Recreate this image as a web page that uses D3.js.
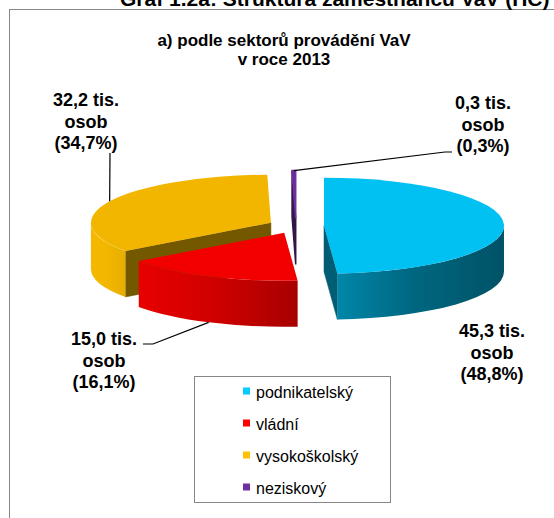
<!DOCTYPE html>
<html>
<head>
<meta charset="utf-8">
<script src="https://cdn.jsdelivr.net/npm/d3@7"></script>
<style>
  body { margin: 0; background: #fff; }
  svg { display: block; font-family: "Liberation Sans", Arial, sans-serif; }
</style>
</head>
<body>
<svg id="chart" width="554" height="518"></svg>
<script>
// data
var sectors = ["podnikatelský", "vládní", "vysokoškolský", "neziskový"];
var persons = [45.3, 15.0, 32.2, 0.3];   // tis. osob
var shares = [48.8, 16.1, 34.7, 0.3];    // %
var colors = ["#00CCFF", "#FF0000", "#FFC000", "#7030A0"];

// label layout (centre x, first baseline y) and leader end points
var labelPos = [[492, 337], [104, 345], [86, 106], [483, 109]];
var leaderEnd = [null, [143, 344], [110, 153], [452, 152]];
var elbow = [0, 10, 0, -7];

var fmt = function(v) { return d3.format(".1f")(v).replace(".", ","); };

var svg = d3.select("#chart");

// outer chart frame
svg.append("rect")
    .attr("x", 9.5).attr("y", 9.5)
    .attr("width", 600).attr("height", 600)
    .attr("fill", "#fff")
    .attr("stroke", "#868686");

// page header, cut off at the top
svg.append("text")
    .attr("x", 120).attr("y", 6)
    .attr("font-size", 21).attr("font-weight", "bold")
    .text("Graf 1.2a: Struktura zaměstnanců VaV (HC)");

// title
var title = svg.append("text")
    .attr("text-anchor", "middle")
    .attr("font-size", 17).attr("font-weight", "bold");
title.append("tspan").attr("x", 284).attr("y", 46).text("a) podle sektorů provádění VaV");
title.append("tspan").attr("x", 284).attr("y", 65).text("v roce 2013");

// 3d pie geometry
var cx = 296, cy = 226, rx = 180, ry = 48, depth = 46, explode = 28;
var k = ry / rx;

var arcs = d3.pie().sort(null).value(function(d) { return d; })(persons);

arcs.forEach(function(d, i) {
    d.index = i;
    d.mid = (d.startAngle + d.endAngle) / 2;
    d.ox = cx + explode * Math.sin(d.mid);
    d.oy = cy - explode * k * Math.cos(d.mid);
});

function pt(d, a, dy) {
    return [d.ox + rx * Math.sin(a), d.oy - ry * Math.cos(a) + (dy || 0)];
}

// light falls from the left
function shade(c, a) {
    var f = 0.68 - 0.28 * Math.sin(a);
    var col = d3.rgb(c);
    return d3.rgb(col.r * f, col.g * f, col.b * f) + "";
}

var defs = svg.append("defs");

// draw back slices first
var order = arcs.slice().sort(function(a, b) { return Math.cos(b.mid) - Math.cos(a.mid); });

var pieG = svg.append("g");

order.forEach(function(d) {
    var c = colors[d.index];
    var g = pieG.append("g");
    var a = d.startAngle, b = d.endAngle;

    // cut faces
    var faces = [];
    if (Math.sin(a) < -1e-6) faces.push(a);
    if (Math.sin(b) > 1e-6) faces.push(b);
    faces.forEach(function(t) {
        var p = pt(d, t);
        g.append("path")
            .attr("d", "M" + d.ox + "," + d.oy + "L" + p[0] + "," + p[1] +
                "L" + p[0] + "," + (p[1] + depth) + "L" + d.ox + "," + (d.oy + depth) + "Z")
            .attr("fill", d3.rgb(c).darker(2.2))
            .attr("stroke", d3.rgb(c).darker(2.2))
            .attr("stroke-width", d.index === 3 ? 1.5 : 0.5);
    });

    // front wall
    var t1 = Math.max(a, Math.PI / 2), t2 = Math.min(b, 3 * Math.PI / 2);
    if (t1 < t2) {
        var gid = "wall" + d.index;
        var grad = defs.append("linearGradient").attr("id", gid)
            .attr("x1", 0).attr("x2", 1).attr("y1", 0).attr("y2", 0);
        grad.append("stop").attr("offset", 0).attr("stop-color", shade(c, t2));
        grad.append("stop").attr("offset", 0.45).attr("stop-color", shade(c, (t1 + t2) / 2 + (t2 - t1) * 0.1));
        grad.append("stop").attr("offset", 1).attr("stop-color", shade(c, t1));
        var p1 = pt(d, t1), p2 = pt(d, t2);
        g.append("path")
            .attr("d", "M" + p1[0] + "," + p1[1] +
                "A" + rx + "," + ry + " 0 0 1 " + p2[0] + "," + p2[1] +
                "L" + p2[0] + "," + (p2[1] + depth) +
                "A" + rx + "," + ry + " 0 0 0 " + p1[0] + "," + (p1[1] + depth) + "Z")
            .attr("fill", "url(#" + gid + ")");
    }

    // top face
    var s = pt(d, a), e = pt(d, b);
    g.append("path")
        .attr("d", "M" + d.ox + "," + d.oy + "L" + s[0] + "," + s[1] +
            "A" + rx + "," + ry + " 0 " + (b - a > Math.PI ? 1 : 0) + " 1 " + e[0] + "," + e[1] + "Z")
        .attr("fill", d3.rgb(c).darker(0.15))
        .attr("stroke", d.index === 3 ? d3.rgb(c) : "none")
        .attr("stroke-width", 1.5);
});

// leader lines
arcs.forEach(function(d, i) {
    if (!leaderEnd[i]) return;
    var front = Math.cos(d.mid) < 0;
    var p = pt(d, d.mid, front ? depth : 0);
    var end = leaderEnd[i];
    var pts = [p, [end[0] + elbow[i], end[1]], end];
    svg.append("path")
        .attr("d", d3.line()(pts))
        .attr("fill", "none")
        .attr("stroke", "#000")
        .attr("stroke-width", 1.2);
});

// data labels
arcs.forEach(function(d, i) {
    var t = svg.append("text")
        .attr("text-anchor", "middle")
        .attr("font-size", 18).attr("font-weight", "bold")
        .attr("fill", "#000");
    var lines = [fmt(persons[i]) + " tis.", "osob", "(" + fmt(shares[i]) + "%)"];
    lines.forEach(function(l, j) {
        t.append("tspan")
            .attr("x", labelPos[i][0])
            .attr("y", labelPos[i][1] + j * 21.5)
            .text(l);
    });
});

// legend
var legend = svg.append("g");
legend.append("rect")
    .attr("x", 194.5).attr("y", 376.5)
    .attr("width", 196).attr("height", 126)
    .attr("fill", "#fff").attr("stroke", "#868686");

var ly = d3.scalePoint().domain(sectors).range([391, 487]);

sectors.forEach(function(s, i) {
    legend.append("rect")
        .attr("x", 243).attr("y", ly(s) - 3.5)
        .attr("width", 7).attr("height", 7)
        .attr("fill", colors[i]);
    legend.append("text")
        .attr("x", 256).attr("y", ly(s) + 7)
        .attr("font-size", 16)
        .text(s);
});
</script>
</body>
</html>
